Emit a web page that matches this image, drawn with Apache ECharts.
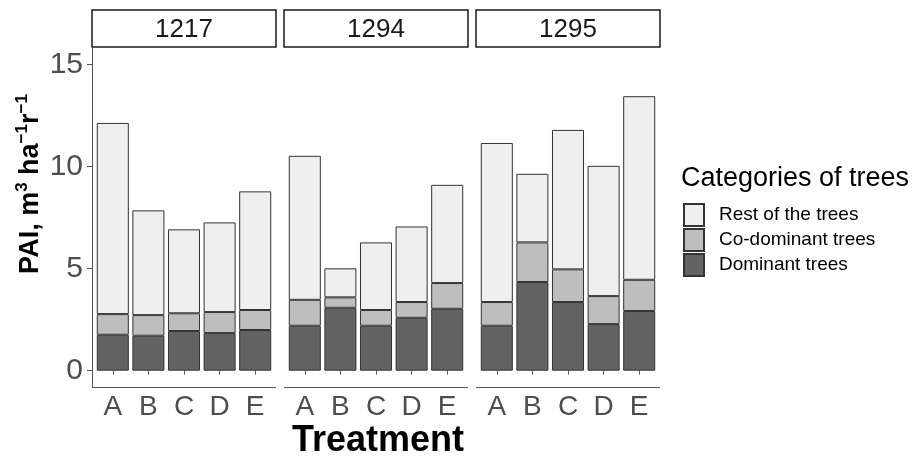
<!DOCTYPE html>
<html><head><meta charset="utf-8">
<script src="https://cdn.jsdelivr.net/npm/echarts@6/dist/echarts.min.js"></script>
<style>html,body{margin:0;padding:0;background:#fff}#c{width:914px;height:458px}</style>
</head><body><div id="c"></div>
<script>
const treatments = ['A','B','C','D','E'];
const sites = ['1217','1294','1295'];
const seriesNames = ['Dominant trees','Co-dominant trees','Rest of the trees'];
// segment values per site, in treatment order A..E
const dominant = {
  '1217': [1.76, 1.71, 1.94, 1.84, 1.99],
  '1294': [2.20, 3.08, 2.20, 2.59, 3.03],
  '1295': [2.20, 4.34, 3.36, 2.28, 2.92]
};
const codominant = {
  '1217': [1.01, 1.01, 0.87, 1.03, 0.98],
  '1294': [1.27, 0.51, 0.77, 0.77, 1.26],
  '1295': [1.16, 1.94, 1.60, 1.37, 1.53]
};
const rest = {
  '1217': [9.36, 5.13, 4.11, 4.39, 5.81],
  '1294': [7.05, 1.42, 3.31, 3.70, 4.81],
  '1295': [7.79, 3.36, 6.83, 6.38, 8.99]
};
const yTicks = [0, 5, 10, 15];

const colors = {'Dominant trees':'#636363','Co-dominant trees':'#BEBEBE','Rest of the trees':'#EFEFEF'};
const FONT = 'Liberation Sans, Arial, sans-serif';
const gridLefts = [95, 287, 479];
const gridW = 178, gridTop = 48, gridH = 339;
const axisY = gridTop + gridH;

const grids = [], xAxes = [], yAxes = [], series = [], graphics = [];
sites.forEach((s, i) => {
  grids.push({left: gridLefts[i], top: gridTop, width: gridW, height: gridH});
  xAxes.push({
    type: 'category', gridIndex: i, data: treatments,
    axisLine: {show: false},
    axisTick: {show: true, length: 4, alignWithLabel: true, lineStyle: {color: '#555'}},
    axisLabel: {fontSize: 28, color: '#4d4d4d', fontFamily: FONT, margin: 6}
  });
  yAxes.push({
    type: 'value', gridIndex: i, min: -0.8, max: 15.8,
    offset: 3,
    splitLine: {show: false},
    axisLine: {show: i === 0, lineStyle: {color: '#555', width: 1}},
    axisTick: {show: i === 0, length: 5, customValues: yTicks, lineStyle: {color: '#555'}},
    axisLabel: {show: i === 0, customValues: yTicks, fontSize: 30, color: '#4d4d4d', fontFamily: FONT, margin: 9}
  });
  const segs = {'Dominant trees': dominant[s], 'Co-dominant trees': codominant[s], 'Rest of the trees': rest[s]};
  seriesNames.forEach(n => {
    series.push({
      name: n, type: 'bar', stack: 'site' + s, xAxisIndex: i, yAxisIndex: i,
      barCategoryGap: '10%', data: segs[n],
      itemStyle: {color: colors[n], borderColor: '#333', borderWidth: 1},
      emphasis: {disabled: true}
    });
  });
  // strip
  graphics.push({type: 'rect', shape: {x: gridLefts[i] - 3, y: 10, width: 184, height: 37},
    style: {fill: '#fff', stroke: '#1a1a1a', lineWidth: 1.5}});
  graphics.push({type: 'text', x: gridLefts[i] - 3 + 92, y: 30,
    style: {text: s, fontSize: 26, fontFamily: FONT, fill: '#1a1a1a', align: 'center', verticalAlign: 'middle'}});
  // panel x-axis line
  graphics.push({type: 'line', shape: {x1: gridLefts[i] - 3, y1: axisY + 0.5, x2: gridLefts[i] + 181, y2: axisY + 0.5},
    style: {stroke: '#555', lineWidth: 1}});
});

graphics.push({type: 'text', x: 29, y: 184, rotation: Math.PI / 2,
  style: {text: '{a|PAI, m}{s|3}{a| ha}{s|−1}{a|r}{s|−1}', align: 'center', verticalAlign: 'middle',
    rich: {a: {fontSize: 27, fontWeight: 'bold', fontFamily: FONT, fill: '#000', lineHeight: 30, verticalAlign: 'bottom'},
           s: {fontSize: 17, fontWeight: 'bold', fontFamily: FONT, fill: '#000', lineHeight: 30, verticalAlign: 'top'}}}});
graphics.push({type: 'text', x: 378, y: 441,
  style: {text: 'Treatment', fontSize: 36, fontWeight: 'bold', fontFamily: FONT, fill: '#000', align: 'center', verticalAlign: 'middle'}});

const chart = echarts.init(document.getElementById('c'));
chart.setOption({
  animation: false,
  title: {text: 'Categories of trees', left: 681, top: 165, padding: 0,
    textStyle: {fontSize: 27, fontWeight: 'normal', color: '#000', fontFamily: FONT}},
  legend: {
    orient: 'vertical', left: 683, top: 203, padding: 0, itemWidth: 20, itemHeight: 22, itemGap: 1,
    icon: 'rect', data: ['Rest of the trees', 'Co-dominant trees', 'Dominant trees'],
    textStyle: {fontSize: 19, color: '#000', fontFamily: FONT, padding: [0, 0, 0, 10]},
    selectedMode: false
  },
  grid: grids, xAxis: xAxes, yAxis: yAxes, series: series, graphic: graphics
});
</script></body></html>
